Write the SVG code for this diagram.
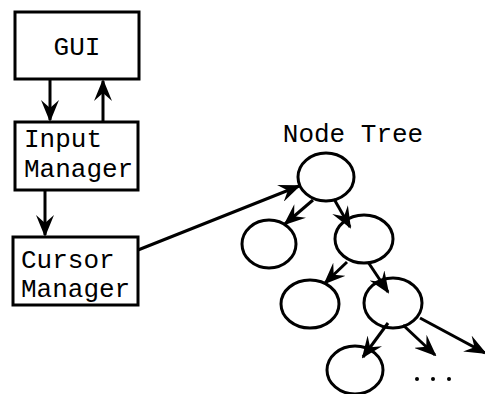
<svg xmlns="http://www.w3.org/2000/svg" width="485" height="394" viewBox="0 0 485 394">
  <style>
    .box { fill: #fff; stroke: #000; stroke-width: 3; }
    .node { fill: #fff; stroke: #000; stroke-width: 3; }
    .lbl { font-family: "Liberation Mono", "Courier New", monospace; font-size: 26px; fill: #000; }
    .edge { stroke: #000; stroke-width: 3; fill: none; marker-end: url(#arr); }
  </style>
  <defs>
    <marker id="arr" viewBox="0 0 22 18" refX="20" refY="9" markerWidth="22" markerHeight="18" markerUnits="userSpaceOnUse" orient="auto">
      <path d="M0,0 L22,9 L0,18 L8,9 Z" fill="#000"/>
    </marker>
  </defs>

  <g id="gui">
    <rect class="box" x="15" y="12" width="124" height="67"/>
    <text class="lbl" x="77" y="55" text-anchor="middle">GUI</text>
  </g>

  <g id="input-manager">
    <rect class="box" x="15" y="122" width="123" height="68"/>
    <text class="lbl" x="24" y="147">Input</text>
    <text class="lbl" x="24" y="177">Manager</text>
  </g>

  <g id="cursor-manager">
    <rect class="box" x="13" y="237" width="125" height="68"/>
    <text class="lbl" x="21" y="268">Cursor</text>
    <text class="lbl" x="21" y="297">Manager</text>
  </g>

  <text class="lbl" x="353" y="142" text-anchor="middle">Node Tree</text>

  <g id="tree-root"><ellipse class="node" cx="326" cy="177" rx="28" ry="24"/></g>
  <g id="tree-l2-left"><ellipse class="node" cx="269" cy="244" rx="27" ry="24"/></g>
  <g id="tree-l2-right"><ellipse class="node" cx="364" cy="239" rx="29" ry="24"/></g>
  <g id="tree-l3-left"><ellipse class="node" cx="310" cy="304" rx="29" ry="24"/></g>
  <g id="tree-l3-right"><ellipse class="node" cx="393" cy="303" rx="29" ry="25"/></g>
  <g id="tree-l4-left"><ellipse class="node" cx="355" cy="370" rx="28" ry="24"/></g>

  <g id="dots" fill="#000">
    <circle cx="417" cy="379" r="2"/>
    <circle cx="433" cy="379" r="2"/>
    <circle cx="449" cy="379" r="2"/>
  </g>

  <g id="connectors">
    <line class="edge" x1="50" y1="79" x2="50" y2="120"/>
    <line class="edge" x1="103" y1="122" x2="103" y2="81"/>
    <line class="edge" x1="45" y1="190" x2="45" y2="235"/>
    <line class="edge" x1="138" y1="250" x2="299" y2="186"/>
    <line class="edge" x1="313" y1="200" x2="285" y2="224"/>
    <line class="edge" x1="334" y1="199" x2="350" y2="227"/>
    <line class="edge" x1="347" y1="262" x2="325" y2="283"/>
    <line class="edge" x1="368" y1="262" x2="388" y2="292"/>
    <line class="edge" x1="388" y1="323" x2="363" y2="357"/>
    <line class="edge" x1="403" y1="325" x2="435" y2="355"/>
    <line class="edge" x1="420" y1="318" x2="485" y2="353"/>
  </g>
</svg>
